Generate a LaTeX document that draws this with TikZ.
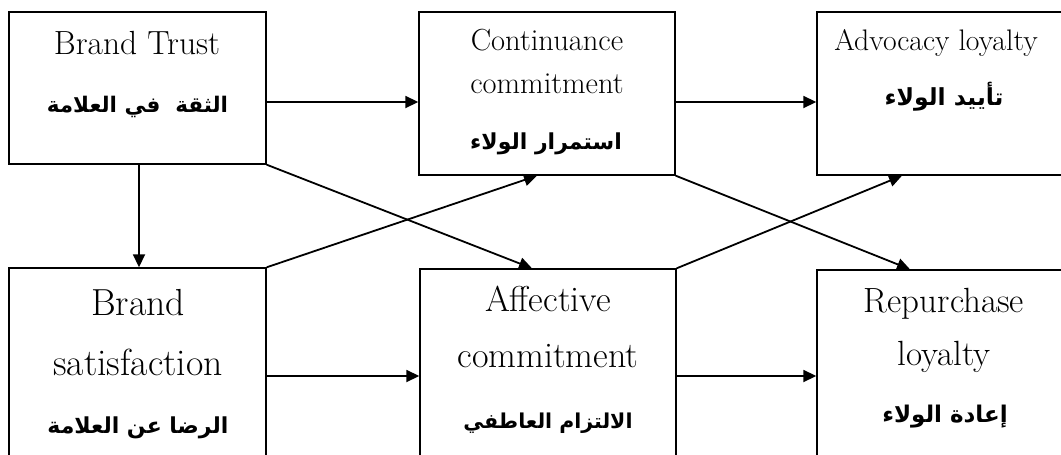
\documentclass[tikz,border=0pt]{standalone}
\usepackage{fontspec}
\newfontfamily\arabicfont[Script=Arabic]{DejaVu Sans}
\TeXXeTstate=1
\usetikzlibrary{arrows.meta}
\begin{document}
\begin{tikzpicture}[x=1pt,y=-1pt,
  box/.style={draw, line width=1.4pt, inner sep=0pt},
  arr/.style={line width=1.8pt, -{Triangle[length=13pt,width=12pt]}},
  en/.style={anchor=base, inner sep=0pt, font=\fontsize{#1}{#1}\selectfont},
  ar/.style={anchor=base, inner sep=0pt, font=\arabicfont\bfseries\fontsize{#1}{#1}\selectfont}]
\useasboundingbox (0,0) rectangle (1061,455);
\clip (0,0) rectangle (1061,455);
\fill[white] (0,0) rectangle (1061,455);
% boxes
\node[box, minimum width=257pt, minimum height=152pt] (b1) at (137.5,88) {};
\node[box, minimum width=256pt, minimum height=163pt] (b2) at (547,93.5) {};
\node[box, minimum width=256pt, minimum height=163pt] (b3) at (945,93.5) {};
\node[box, minimum width=257pt, minimum height=216pt] (b4) at (137.5,376) {};
\node[box, minimum width=256pt, minimum height=214pt] (b5) at (548,376) {};
\node[box, minimum width=256pt, minimum height=212pt] (b6) at (945,376) {};
% texts
\node[en=33.5] (t1a) at (137,54) {Brand Trust};
\node[ar=21.5] (t1b) at (137.5,112) {\beginR الثقة \ في العلامة\endR};
\node[en=30.5] (t2a) at (547,50) {Continuance};
\node[en=30.5] (t2b) at (547,93) {commitment};
\node[ar=22] (t2c) at (546,149) {\beginR استمرار الولاء\endR};
\node[en=29.7] (t3a) at (936,50) {Advocacy loyalty};
\node[ar=23.5] (t3b) at (944,105) {\beginR تأييد الولاء\endR};
\node[en=37.7] (t4a) at (138,315) {Brand};
\node[en=37.7] (t4b) at (138,375) {satisfaction};
\node[ar=22] (t4c) at (138,433) {\beginR الرضا عن العلامة\endR};
\node[en=36] (t5a) at (548,311) {Affective};
\node[en=36] (t5b) at (548,367) {commitment};
\node[ar=20.5] (t5c) at (548,428) {\beginR الالتزام العاطفي\endR};
\node[en=35] (t6a) at (944,312) {Repurchase};
\node[en=35] (t6b) at (944,365) {loyalty};
\node[ar=23] (t6c) at (945,422) {\beginR إعادة الولاء\endR};
% connectors
\coordinate (p1) at ([yshift=-14pt]b1.east);
\coordinate (p2) at ([yshift=-8.5pt]b2.east);
\draw[arr] (p1) -- (p1 -| b2.west);
\draw[arr] (p2) -- (p2 -| b3.west);
\draw[arr] ([xshift=1.5pt]b1.south) -- ([xshift=1.5pt]b4.north);
\draw[arr] (b1.south east) -- ([xshift=-16pt]b5.north);
\draw[arr] (b4.north east) -- ([xshift=-10pt]b2.south);
\draw[arr] (b2.south east) -- ([xshift=-35pt]b6.north);
\draw[arr] (b5.north east) -- ([xshift=-43pt]b3.south);
\draw[arr] (b4.east) -- (b5.west);
\draw[arr] (b5.east) -- (b6.west);
\end{tikzpicture}
\end{document}
